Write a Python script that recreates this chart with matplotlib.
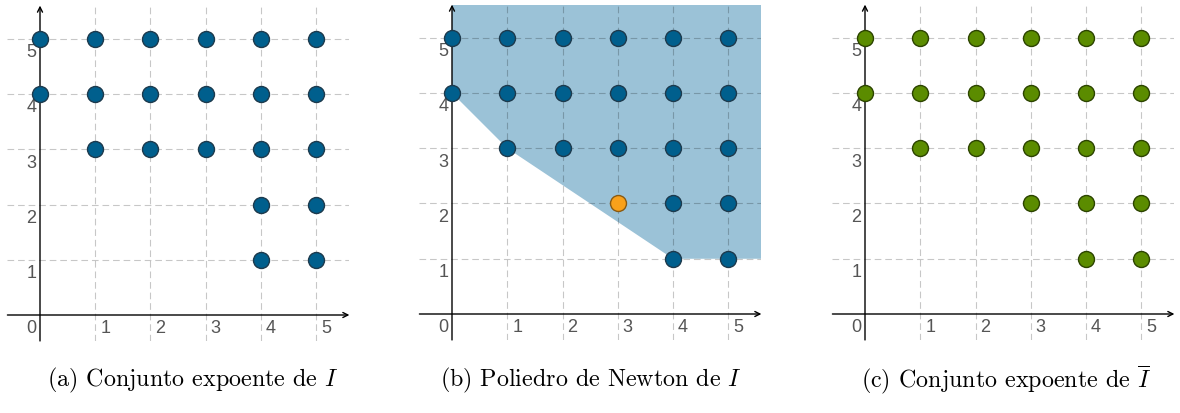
import numpy as np
import matplotlib
matplotlib.use("Agg")
import matplotlib.pyplot as plt

plt.rcParams['mathtext.fontset'] = 'cm'

# ─── data ─────────────────────────────────────────────────────────────────────
# exponent set of I (panel a and b)
set_I_x = [0, 1, 2, 3, 4, 5, 0, 1, 2, 3, 4, 5, 1, 2, 3, 4, 5, 4, 5, 4, 5]
set_I_y = [5, 5, 5, 5, 5, 5, 4, 4, 4, 4, 4, 4, 3, 3, 3, 3, 3, 2, 2, 1, 1]
# extra point inside the Newton polyhedron
extra_x = [3]
extra_y = [2]
# exponent set of I-bar (panel c)
set_Ibar_x = [0, 1, 2, 3, 4, 5, 0, 1, 2, 3, 4, 5, 1, 2, 3, 4, 5, 3, 4, 5, 4, 5]
set_Ibar_y = [5, 5, 5, 5, 5, 5, 4, 4, 4, 4, 4, 4, 3, 3, 3, 3, 3, 2, 2, 2, 1, 1]
# Newton polyhedron boundary vertices
newton_x = [0, 1, 4]
newton_y = [4, 3, 1]
ticks = [1, 2, 3, 4, 5]

captions = [r"(a) Conjunto expoente de $I$",
            r"(b) Poliedro de Newton de $I$",
            r"(c) Conjunto expoente de $\overline{I}$"]

# ─── layout (pixels) ──────────────────────────────────────────────────────────
W, H = 1180, 413
UNIT = 55.25
ORIGINS = [(40, 315), (452, 314), (865, 314)]
XMIN, XMAX = -0.59, 5.6
YMIN, YMAX = -0.47, 5.6
CAP_X = [193, 591, 1006]
TICK_FONT = dict(fontsize=13, color='#555555', family='Liberation Sans')
MS = 11.5

fig = plt.figure(figsize=(W / 100, H / 100), dpi=100)


def make_ax(ox, oy):
    left = ox + XMIN * UNIT
    right = ox + XMAX * UNIT
    top = oy - YMAX * UNIT
    bottom = oy - YMIN * UNIT
    ax = fig.add_axes([left / W, 1 - bottom / H, (right - left) / W, (bottom - top) / H])
    ax.set_xlim(XMIN, XMAX)
    ax.set_ylim(YMIN, YMAX)
    ax.axis('off')
    # dashed grid
    for t in ticks:
        ax.plot([t, t], [YMIN, YMAX], ls=(0, (6, 3.5)), lw=0.8, color='k', alpha=0.22, zorder=1)
        ax.plot([XMIN, XMAX], [t, t], ls=(0, (6, 3.5)), lw=0.8, color='k', alpha=0.22, zorder=1)
    # axes with arrows
    ax.annotate('', xy=(XMAX, 0), xytext=(XMIN, 0),
                arrowprops=dict(arrowstyle='->', lw=1.0, color='k', shrinkA=0, shrinkB=0,
                                mutation_scale=9), zorder=2)
    ax.annotate('', xy=(0, YMAX), xytext=(0, YMIN),
                arrowprops=dict(arrowstyle='->', lw=1.0, color='k', shrinkA=0, shrinkB=0,
                                mutation_scale=9), zorder=2)
    # tick labels
    ax.text(-0.07, -0.24, '0', ha='right', va='center', **TICK_FONT)
    for t in ticks:
        ax.text(t + 0.09, -0.24, str(t), ha='left', va='center', **TICK_FONT)
        ax.text(-0.07, t - 0.25, str(t), ha='right', va='center', **TICK_FONT)
    return ax


# (a)
ax = make_ax(*ORIGINS[0])
ax.plot(set_I_x, set_I_y, 'o', ms=MS, mfc='#005f8d', mec='#1d3a4d', mew=1.0, zorder=3, clip_on=False)

# (b)
ax = make_ax(*ORIGINS[1])
poly_x = [0] + newton_x + [XMAX, XMAX]
poly_y = [YMAX] + newton_y + [newton_y[-1], YMAX]
ax.fill(poly_x, poly_y, color='#9bc2d7', lw=0, zorder=0)
ax.plot(set_I_x, set_I_y, 'o', ms=MS, mfc='#005f8d', mec='#1d3a4d', mew=1.0, zorder=3, clip_on=False)
ax.plot(extra_x, extra_y, 'o', ms=MS, mfc='#f9a11b', mec='#8a5a12', mew=1.0, zorder=3)

# (c)
ax = make_ax(*ORIGINS[2])
ax.plot(set_Ibar_x, set_Ibar_y, 'o', ms=MS, mfc='#5b8c00', mec='#2c4400', mew=1.0, zorder=3, clip_on=False)

for cx, cap in zip(CAP_X, captions):
    fig.text(cx / W, 1 - 380 / H, cap, ha='center', va='center', fontsize=17.3,
             family='cmr10')

fig.savefig('out.png', dpi=100)
